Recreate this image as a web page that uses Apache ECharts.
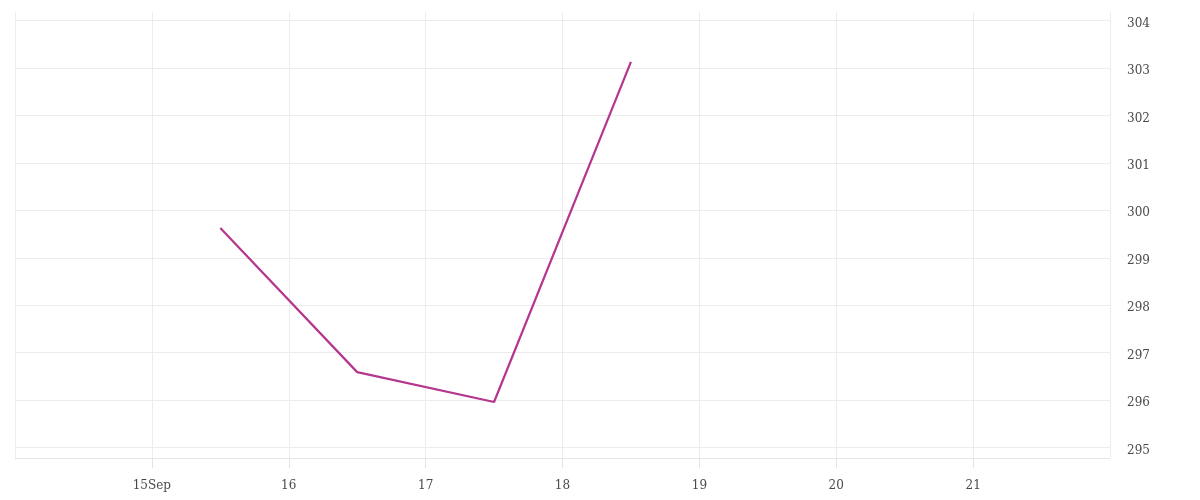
<!DOCTYPE html>
<html>
<head>
<meta charset="utf-8">
<script src="https://cdn.jsdelivr.net/npm/echarts@6/dist/echarts.min.js"></script>
<style>html,body{margin:0;padding:0;background:#fff;}#c{width:1200px;height:500px;}</style>
</head>
<body>
<div id="c"></div>
<script>
const dates = ['2023-09-15T12:00:00', '2023-09-16T12:00:00', '2023-09-17T12:00:00', '2023-09-18T12:00:00'];
const values = [299.63, 296.59, 295.96, 303.13];
const xMin = '2023-09-14T00:00:00';
const xMax = '2023-09-22T00:00:00';
const yMin = 294.78;
const yMax = 304.18;

const DAY = 86400000;
const t0 = new Date(xMin).getTime();
const t1 = new Date(xMax).getTime();
const seriesData = dates.map((d, i) => [new Date(d).getTime(), values[i]]);

const chart = echarts.init(document.getElementById('c'));
const font = 'DejaVu Serif';
chart.setOption({
  animation: false,
  grid: { left: 15, right: 90, top: 12, bottom: 42 },
  xAxis: {
    type: 'value',
    min: t0,
    max: t1,
    interval: DAY,
    axisLine: { show: true, lineStyle: { color: '#e6e6e6', width: 1 } },
    axisTick: { show: true, inside: false, length: 10, lineStyle: { color: '#e3e3e3', width: 1 } },
    splitLine: { show: true, lineStyle: { color: '#ececec', width: 1 } },
    axisLabel: {
      show: true,
      margin: 22,
      color: '#4a4a4a',
      fontFamily: font,
      fontSize: 12,
      showMinLabel: false,
      showMaxLabel: false,
      formatter: function (v) {
        const d = new Date(v);
        const day = d.getDate();
        return day === 15 ? '15Sep' : String(day);
      }
    }
  },
  yAxis: {
    type: 'value',
    position: 'right',
    min: yMin,
    max: yMax,
    minInterval: 1,
    maxInterval: 1,
    axisLine: { show: false },
    axisTick: { show: false },
    splitLine: { show: true, showMinLine: false, showMaxLine: false, lineStyle: { color: '#ececec', width: 1 } },
    axisLabel: {
      margin: 17,
      color: '#4a4a4a',
      fontFamily: font,
      fontSize: 12,
      showMinLabel: false,
      showMaxLabel: false,
      formatter: function (v) { return '{a|' + v + '}'; },
      rich: { a: { color: '#4a4a4a', fontFamily: font, fontSize: 12, padding: [6, 0, 0, 0] } }
    }
  },
  series: [{
    type: 'line',
    data: seriesData,
    showSymbol: false,
    symbol: 'none',
    lineStyle: { color: '#b5368d', width: 2.2 }
  }]
});
</script>
</body>
</html>
